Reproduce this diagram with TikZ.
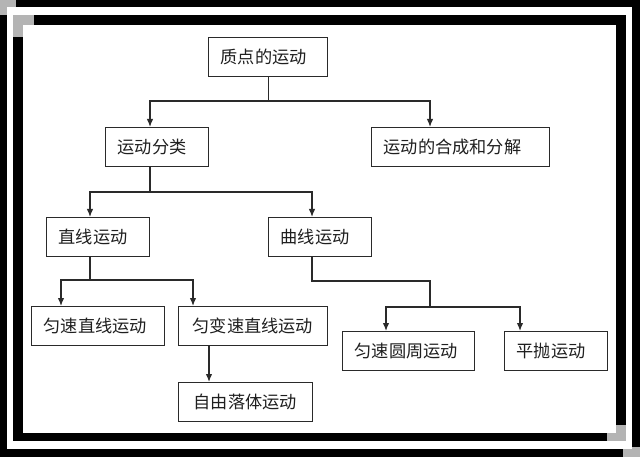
\documentclass[tikz,border=0pt]{standalone}
\usepackage{fontspec}
\setmainfont{Noto Sans CJK SC}
\usetikzlibrary{arrows.meta}
\definecolor{ln}{HTML}{2A2A2A}
\definecolor{sh}{HTML}{B4B4B4}
\tikzset{
  box/.style={draw=ln, line width=1.4pt, anchor=north west, inner xsep=12pt, inner ysep=0pt,
    minimum height=39pt, align=left, text=black!88,
    font=\fontsize{17.2pt}{20pt}\selectfont},
  conn/.style={draw=ln, line width=1.3pt},
  arr/.style={conn, -{Latex[length=8pt,width=6.5pt]}},
  band/.style={fill=black},
  shade/.style={fill=sh}
}
\begin{document}
\begin{tikzpicture}[x=1pt,y=-1pt]
\useasboundingbox (0,0) rectangle (640,457);
\fill[white] (0,0) rectangle (640,457);
% outer frame
\fill[band] (16,0) rectangle (640,7);
\fill[band] (0,15) rectangle (7,457);
\fill[band] (632,0) rectangle (640,447);
\fill[band] (7,449) rectangle (623,457);
\fill[shade] (0,0) rectangle (16,7);
\fill[shade] (0,0) rectangle (7,15);
\fill[shade] (623,449) rectangle (640,457);
\fill[shade] (632,447) rectangle (640,457);
% inner frame
\fill[band] (34,15) rectangle (626,25);
\fill[band] (13,37) rectangle (23,441);
\fill[band] (616,15) rectangle (626,425);
\fill[band] (13,433) rectangle (607,441);
\fill[shade] (13,15) rectangle (34,25);
\fill[shade] (13,15) rectangle (23,37);
\fill[shade] (607,433) rectangle (626,441);
\fill[shade] (616,425) rectangle (626,441);
% boxes
\node[box, text width=95pt] (a) at (208,37) {质点的运动};
\node[box, text width=79pt] (b) at (105,127) {运动分类};
\node[box, text width=154pt] (c) at (371,127) {运动的合成和分解};
\node[box, text width=79pt] (d) at (46,217) {直线运动};
\node[box, text width=79pt] (e) at (268,217) {曲线运动};
\node[box, text width=109pt] (f) at (31,306) {匀速直线运动};
\node[box, text width=125pt] (g) at (178,306) {\hspace*{2pt}匀变速直线运动};
\node[box, text width=110pt] (h) at (178,382) {\hspace*{3pt}自由落体运动};
\node[box, text width=108pt] (i) at (342,331) {匀速圆周运动};
\node[box, text width=79pt] (j) at (504,331) {平抛运动};
% junction coordinates
\coordinate (ab) at (150,101);
\coordinate (ac) at (430,101);
\coordinate (bs) at (150,192);
\coordinate (bd) at (90,192);
\coordinate (be) at (312,192);
\coordinate (ds) at (90,280);
\coordinate (df) at (61,280);
\coordinate (dg) at (193,280);
\coordinate (gh) at (209,345);
\coordinate (es) at (312,281);
\coordinate (em) at (430,281);
\coordinate (en) at (430,307);
\coordinate (ei) at (386,307);
\coordinate (ej) at (520,307);
% connectors
\draw[arr] (a.south) |- (ab) -- (ab |- b.north);
\draw[arr] (a.south) |- (ac) -- (ac |- c.north);
\draw[conn] (bs |- b.south) -- (bs);
\draw[arr] (bs) -- (bd) -- (bd |- d.north);
\draw[arr] (bs) -- (be) -- (be |- e.north);
\draw[conn] (ds |- d.south) -- (ds);
\draw[arr] (ds) -- (df) -- (df |- f.north);
\draw[arr] (ds) -- (dg) -- (dg |- g.north);
\draw[arr] (gh) -- (gh |- h.north);
\draw[conn] (es |- e.south) -- (es) -- (em) -- (en);
\draw[arr] (en) -- (ei) -- (ei |- i.north);
\draw[arr] (en) -- (ej) -- (ej |- j.north);
\end{tikzpicture}
\end{document}
